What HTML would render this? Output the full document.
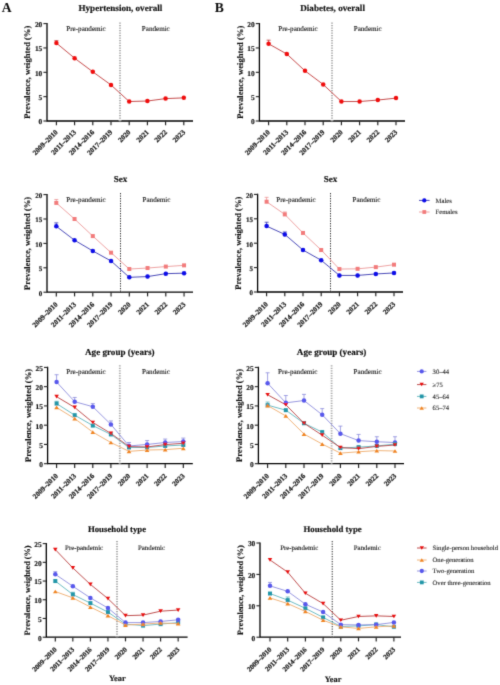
<!DOCTYPE html>
<html><head><meta charset="utf-8"><style>
html,body{margin:0;padding:0;background:#fff;width:500px;height:685px;overflow:hidden;}
svg{display:block;}
#w{width:500px;height:685px;}
text{font-family:"Liberation Serif",serif;text-rendering:geometricPrecision;}
</style></head><body><div id="w">
<svg width="500" height="685" viewBox="0 0 500 685" fill="#111">
<defs><filter id="bl" x="0" y="0" width="500" height="685" filterUnits="userSpaceOnUse"><feConvolveMatrix order="3" kernelMatrix="0.0144 0.0912 0.0144 0.0912 0.5776 0.0912 0.0144 0.0912 0.0144" edgeMode="none"/></filter></defs>
<rect width="500" height="685" fill="#fff"/>
<g filter="url(#bl)">
<text x="120.4" y="11.2" text-anchor="middle" font-weight="bold" font-size="9.10" stroke="#000" stroke-width="0.14">Hypertension, overall</text>
<text x="30.5" y="72.3" transform="rotate(-90 30.5 72.3)" text-anchor="middle" font-weight="bold" font-size="8.55" stroke="#000" stroke-width="0.1">Prevalence, weighted (%)</text>
<path d="M47.00,23.00V121.00H193.00" fill="none" stroke="#000" stroke-width="1.3"/>
<path d="M43.40,121.00H47.00" stroke="#222" stroke-width="1.1"/>
<text x="42.30" y="124.40" text-anchor="end" font-weight="bold" font-size="7.40" stroke="#111" stroke-width="0.15">0</text>
<path d="M43.40,96.65H47.00" stroke="#222" stroke-width="1.1"/>
<text x="42.30" y="100.05" text-anchor="end" font-weight="bold" font-size="7.40" stroke="#111" stroke-width="0.15">5</text>
<path d="M43.40,72.30H47.00" stroke="#222" stroke-width="1.1"/>
<text x="42.30" y="75.70" text-anchor="end" font-weight="bold" font-size="7.40" stroke="#111" stroke-width="0.15">10</text>
<path d="M43.40,47.95H47.00" stroke="#222" stroke-width="1.1"/>
<text x="42.30" y="51.35" text-anchor="end" font-weight="bold" font-size="7.40" stroke="#111" stroke-width="0.15">15</text>
<path d="M43.40,23.60H47.00" stroke="#222" stroke-width="1.1"/>
<text x="42.30" y="27.00" text-anchor="end" font-weight="bold" font-size="7.40" stroke="#111" stroke-width="0.15">20</text>
<path d="M56.40,121.00V125.20" stroke="#222" stroke-width="1.15"/>
<text x="58.30" y="132.60" transform="rotate(-45 58.30 132.60)" text-anchor="end" font-weight="bold" font-size="7.20" stroke="#111" stroke-width="0.18">2009–2010</text>
<path d="M74.60,121.00V125.20" stroke="#222" stroke-width="1.15"/>
<text x="76.50" y="132.60" transform="rotate(-45 76.50 132.60)" text-anchor="end" font-weight="bold" font-size="7.20" stroke="#111" stroke-width="0.18">2011–2013</text>
<path d="M92.80,121.00V125.20" stroke="#222" stroke-width="1.15"/>
<text x="94.70" y="132.60" transform="rotate(-45 94.70 132.60)" text-anchor="end" font-weight="bold" font-size="7.20" stroke="#111" stroke-width="0.18">2014–2016</text>
<path d="M111.00,121.00V125.20" stroke="#222" stroke-width="1.15"/>
<text x="112.90" y="132.60" transform="rotate(-45 112.90 132.60)" text-anchor="end" font-weight="bold" font-size="7.20" stroke="#111" stroke-width="0.18">2017–2019</text>
<path d="M129.20,121.00V125.20" stroke="#222" stroke-width="1.15"/>
<text x="131.10" y="132.60" transform="rotate(-45 131.10 132.60)" text-anchor="end" font-weight="bold" font-size="7.20" stroke="#111" stroke-width="0.18">2020</text>
<path d="M147.40,121.00V125.20" stroke="#222" stroke-width="1.15"/>
<text x="149.30" y="132.60" transform="rotate(-45 149.30 132.60)" text-anchor="end" font-weight="bold" font-size="7.20" stroke="#111" stroke-width="0.18">2021</text>
<path d="M165.60,121.00V125.20" stroke="#222" stroke-width="1.15"/>
<text x="167.50" y="132.60" transform="rotate(-45 167.50 132.60)" text-anchor="end" font-weight="bold" font-size="7.20" stroke="#111" stroke-width="0.18">2022</text>
<path d="M183.80,121.00V125.20" stroke="#222" stroke-width="1.15"/>
<text x="185.70" y="132.60" transform="rotate(-45 185.70 132.60)" text-anchor="end" font-weight="bold" font-size="7.20" stroke="#111" stroke-width="0.18">2023</text>
<path d="M120.00,22.40V121.00" stroke="#aaa" stroke-width="1.8" stroke-dasharray="1.25 1.25"/>
<text x="86.0" y="30.8" text-anchor="middle" font-size="7.10" stroke="#222" stroke-width="0.12">Pre-pandemic</text>
<text x="155.8" y="30.8" text-anchor="middle" font-size="7.10" stroke="#222" stroke-width="0.12">Pandemic</text>
<path d="M56.40,43.08L74.60,58.18L92.80,71.81L111.00,84.96L129.20,101.52L147.40,101.03L165.60,98.60L183.80,97.87" fill="none" stroke="#c03838" stroke-width="0.9"/>
<path d="M56.40,43.08V40.64M54.40,40.64H58.40" stroke="#c03838" stroke-width="0.8" fill="none"/>
<circle cx="56.40" cy="43.08" r="2.25" fill="#f01010"/>
<circle cx="74.60" cy="58.18" r="2.25" fill="#f01010"/>
<circle cx="92.80" cy="71.81" r="2.25" fill="#f01010"/>
<circle cx="111.00" cy="84.96" r="2.25" fill="#f01010"/>
<circle cx="129.20" cy="101.52" r="2.25" fill="#f01010"/>
<circle cx="147.40" cy="101.03" r="2.25" fill="#f01010"/>
<circle cx="165.60" cy="98.60" r="2.25" fill="#f01010"/>
<circle cx="183.80" cy="97.87" r="2.25" fill="#f01010"/>
<text x="332.6" y="11.2" text-anchor="middle" font-weight="bold" font-size="9.10" stroke="#000" stroke-width="0.14">Diabetes, overall</text>
<text x="242.9" y="72.3" transform="rotate(-90 242.9 72.3)" text-anchor="middle" font-weight="bold" font-size="8.55" stroke="#000" stroke-width="0.1">Prevalence, weighted (%)</text>
<path d="M259.40,23.00V121.00H405.00" fill="none" stroke="#000" stroke-width="1.3"/>
<path d="M255.80,121.00H259.40" stroke="#222" stroke-width="1.1"/>
<text x="254.70" y="124.40" text-anchor="end" font-weight="bold" font-size="7.40" stroke="#111" stroke-width="0.15">0</text>
<path d="M255.80,96.65H259.40" stroke="#222" stroke-width="1.1"/>
<text x="254.70" y="100.05" text-anchor="end" font-weight="bold" font-size="7.40" stroke="#111" stroke-width="0.15">5</text>
<path d="M255.80,72.30H259.40" stroke="#222" stroke-width="1.1"/>
<text x="254.70" y="75.70" text-anchor="end" font-weight="bold" font-size="7.40" stroke="#111" stroke-width="0.15">10</text>
<path d="M255.80,47.95H259.40" stroke="#222" stroke-width="1.1"/>
<text x="254.70" y="51.35" text-anchor="end" font-weight="bold" font-size="7.40" stroke="#111" stroke-width="0.15">15</text>
<path d="M255.80,23.60H259.40" stroke="#222" stroke-width="1.1"/>
<text x="254.70" y="27.00" text-anchor="end" font-weight="bold" font-size="7.40" stroke="#111" stroke-width="0.15">20</text>
<path d="M268.60,121.00V125.20" stroke="#222" stroke-width="1.15"/>
<text x="270.50" y="132.60" transform="rotate(-45 270.50 132.60)" text-anchor="end" font-weight="bold" font-size="7.20" stroke="#111" stroke-width="0.18">2009–2010</text>
<path d="M286.80,121.00V125.20" stroke="#222" stroke-width="1.15"/>
<text x="288.70" y="132.60" transform="rotate(-45 288.70 132.60)" text-anchor="end" font-weight="bold" font-size="7.20" stroke="#111" stroke-width="0.18">2011–2013</text>
<path d="M305.00,121.00V125.20" stroke="#222" stroke-width="1.15"/>
<text x="306.90" y="132.60" transform="rotate(-45 306.90 132.60)" text-anchor="end" font-weight="bold" font-size="7.20" stroke="#111" stroke-width="0.18">2014–2016</text>
<path d="M323.20,121.00V125.20" stroke="#222" stroke-width="1.15"/>
<text x="325.10" y="132.60" transform="rotate(-45 325.10 132.60)" text-anchor="end" font-weight="bold" font-size="7.20" stroke="#111" stroke-width="0.18">2017–2019</text>
<path d="M341.40,121.00V125.20" stroke="#222" stroke-width="1.15"/>
<text x="343.30" y="132.60" transform="rotate(-45 343.30 132.60)" text-anchor="end" font-weight="bold" font-size="7.20" stroke="#111" stroke-width="0.18">2020</text>
<path d="M359.60,121.00V125.20" stroke="#222" stroke-width="1.15"/>
<text x="361.50" y="132.60" transform="rotate(-45 361.50 132.60)" text-anchor="end" font-weight="bold" font-size="7.20" stroke="#111" stroke-width="0.18">2021</text>
<path d="M377.80,121.00V125.20" stroke="#222" stroke-width="1.15"/>
<text x="379.70" y="132.60" transform="rotate(-45 379.70 132.60)" text-anchor="end" font-weight="bold" font-size="7.20" stroke="#111" stroke-width="0.18">2022</text>
<path d="M396.00,121.00V125.20" stroke="#222" stroke-width="1.15"/>
<text x="397.90" y="132.60" transform="rotate(-45 397.90 132.60)" text-anchor="end" font-weight="bold" font-size="7.20" stroke="#111" stroke-width="0.18">2023</text>
<path d="M332.00,22.40V121.00" stroke="#aaa" stroke-width="1.8" stroke-dasharray="1.25 1.25"/>
<text x="298.0" y="30.8" text-anchor="middle" font-size="7.10" stroke="#222" stroke-width="0.12">Pre-pandemic</text>
<text x="367.7" y="30.8" text-anchor="middle" font-size="7.10" stroke="#222" stroke-width="0.12">Pandemic</text>
<path d="M268.60,43.81L286.80,54.04L305.00,70.84L323.20,84.47L341.40,101.52L359.60,101.52L377.80,100.06L396.00,98.11" fill="none" stroke="#c03838" stroke-width="0.9"/>
<path d="M268.60,43.81V40.16M266.60,40.16H270.60" stroke="#c03838" stroke-width="0.8" fill="none"/>
<circle cx="268.60" cy="43.81" r="2.25" fill="#f01010"/>
<circle cx="286.80" cy="54.04" r="2.25" fill="#f01010"/>
<circle cx="305.00" cy="70.84" r="2.25" fill="#f01010"/>
<circle cx="323.20" cy="84.47" r="2.25" fill="#f01010"/>
<circle cx="341.40" cy="101.52" r="2.25" fill="#f01010"/>
<circle cx="359.60" cy="101.52" r="2.25" fill="#f01010"/>
<circle cx="377.80" cy="100.06" r="2.25" fill="#f01010"/>
<circle cx="396.00" cy="98.11" r="2.25" fill="#f01010"/>
<text x="120.5" y="182.2" text-anchor="middle" font-weight="bold" font-size="9.10" stroke="#000" stroke-width="0.14">Sex</text>
<text x="30.5" y="243.4" transform="rotate(-90 30.5 243.4)" text-anchor="middle" font-weight="bold" font-size="8.55" stroke="#000" stroke-width="0.1">Prevalence, weighted (%)</text>
<path d="M47.00,194.00V292.20H193.00" fill="none" stroke="#000" stroke-width="1.3"/>
<path d="M43.40,292.20H47.00" stroke="#222" stroke-width="1.1"/>
<text x="42.30" y="295.60" text-anchor="end" font-weight="bold" font-size="7.00" stroke="#111" stroke-width="0.15">0</text>
<path d="M43.40,267.80H47.00" stroke="#222" stroke-width="1.1"/>
<text x="42.30" y="271.20" text-anchor="end" font-weight="bold" font-size="7.00" stroke="#111" stroke-width="0.15">5</text>
<path d="M43.40,243.40H47.00" stroke="#222" stroke-width="1.1"/>
<text x="42.30" y="246.80" text-anchor="end" font-weight="bold" font-size="7.00" stroke="#111" stroke-width="0.15">10</text>
<path d="M43.40,219.00H47.00" stroke="#222" stroke-width="1.1"/>
<text x="42.30" y="222.40" text-anchor="end" font-weight="bold" font-size="7.00" stroke="#111" stroke-width="0.15">15</text>
<path d="M43.40,194.60H47.00" stroke="#222" stroke-width="1.1"/>
<text x="42.30" y="198.00" text-anchor="end" font-weight="bold" font-size="7.00" stroke="#111" stroke-width="0.15">20</text>
<path d="M56.30,292.20V296.40" stroke="#222" stroke-width="1.15"/>
<text x="58.20" y="304.90" transform="rotate(-45 58.20 304.90)" text-anchor="end" font-weight="bold" font-size="7.20" stroke="#111" stroke-width="0.18">2009–2010</text>
<path d="M74.55,292.20V296.40" stroke="#222" stroke-width="1.15"/>
<text x="76.45" y="304.90" transform="rotate(-45 76.45 304.90)" text-anchor="end" font-weight="bold" font-size="7.20" stroke="#111" stroke-width="0.18">2011–2013</text>
<path d="M92.80,292.20V296.40" stroke="#222" stroke-width="1.15"/>
<text x="94.70" y="304.90" transform="rotate(-45 94.70 304.90)" text-anchor="end" font-weight="bold" font-size="7.20" stroke="#111" stroke-width="0.18">2014–2016</text>
<path d="M111.05,292.20V296.40" stroke="#222" stroke-width="1.15"/>
<text x="112.95" y="304.90" transform="rotate(-45 112.95 304.90)" text-anchor="end" font-weight="bold" font-size="7.20" stroke="#111" stroke-width="0.18">2017–2019</text>
<path d="M129.30,292.20V296.40" stroke="#222" stroke-width="1.15"/>
<text x="131.20" y="304.90" transform="rotate(-45 131.20 304.90)" text-anchor="end" font-weight="bold" font-size="7.20" stroke="#111" stroke-width="0.18">2020</text>
<path d="M147.55,292.20V296.40" stroke="#222" stroke-width="1.15"/>
<text x="149.45" y="304.90" transform="rotate(-45 149.45 304.90)" text-anchor="end" font-weight="bold" font-size="7.20" stroke="#111" stroke-width="0.18">2021</text>
<path d="M165.80,292.20V296.40" stroke="#222" stroke-width="1.15"/>
<text x="167.70" y="304.90" transform="rotate(-45 167.70 304.90)" text-anchor="end" font-weight="bold" font-size="7.20" stroke="#111" stroke-width="0.18">2022</text>
<path d="M184.05,292.20V296.40" stroke="#222" stroke-width="1.15"/>
<text x="185.95" y="304.90" transform="rotate(-45 185.95 304.90)" text-anchor="end" font-weight="bold" font-size="7.20" stroke="#111" stroke-width="0.18">2023</text>
<path d="M120.50,193.00V292.20" stroke="#333" stroke-width="1.0" stroke-dasharray="1.25 1.25"/>
<text x="86.0" y="201.8" text-anchor="middle" font-size="7.10" stroke="#222" stroke-width="0.12">Pre-pandemic</text>
<text x="156.5" y="201.8" text-anchor="middle" font-size="7.10" stroke="#222" stroke-width="0.12">Pandemic</text>
<path d="M56.30,202.90L74.55,219.00L92.80,236.08L111.05,252.67L129.30,269.02L147.55,268.04L165.80,266.58L184.05,265.36" fill="none" stroke="#ec9898" stroke-width="0.9"/>
<path d="M56.30,202.90V199.48M54.30,199.48H58.30" stroke="#ec9898" stroke-width="0.8" fill="none"/>
<rect x="54.30" y="200.90" width="4.00" height="4.00" fill="#f27c7c"/>
<rect x="72.55" y="217.00" width="4.00" height="4.00" fill="#f27c7c"/>
<rect x="90.80" y="234.08" width="4.00" height="4.00" fill="#f27c7c"/>
<rect x="109.05" y="250.67" width="4.00" height="4.00" fill="#f27c7c"/>
<rect x="127.30" y="267.02" width="4.00" height="4.00" fill="#f27c7c"/>
<rect x="145.55" y="266.04" width="4.00" height="4.00" fill="#f27c7c"/>
<rect x="163.80" y="264.58" width="4.00" height="4.00" fill="#f27c7c"/>
<rect x="182.05" y="263.36" width="4.00" height="4.00" fill="#f27c7c"/>
<path d="M56.30,226.32L74.55,240.23L92.80,250.96L111.05,260.97L129.30,277.32L147.55,276.58L165.80,273.66L184.05,273.17" fill="none" stroke="#3535b0" stroke-width="0.9"/>
<path d="M56.30,226.32V222.90M54.30,222.90H58.30" stroke="#3535b0" stroke-width="0.8" fill="none"/>
<circle cx="56.30" cy="226.32" r="2.25" fill="#0a0ae8"/>
<circle cx="74.55" cy="240.23" r="2.25" fill="#0a0ae8"/>
<circle cx="92.80" cy="250.96" r="2.25" fill="#0a0ae8"/>
<circle cx="111.05" cy="260.97" r="2.25" fill="#0a0ae8"/>
<circle cx="129.30" cy="277.32" r="2.25" fill="#0a0ae8"/>
<circle cx="147.55" cy="276.58" r="2.25" fill="#0a0ae8"/>
<circle cx="165.80" cy="273.66" r="2.25" fill="#0a0ae8"/>
<circle cx="184.05" cy="273.17" r="2.25" fill="#0a0ae8"/>
<text x="330.6" y="182.2" text-anchor="middle" font-weight="bold" font-size="9.10" stroke="#000" stroke-width="0.14">Sex</text>
<text x="241.1" y="243.2" transform="rotate(-90 241.1 243.2)" text-anchor="middle" font-weight="bold" font-size="8.55" stroke="#000" stroke-width="0.1">Prevalence, weighted (%)</text>
<path d="M257.60,193.80V292.00H403.00" fill="none" stroke="#000" stroke-width="1.3"/>
<path d="M254.00,292.00H257.60" stroke="#222" stroke-width="1.1"/>
<text x="252.90" y="295.40" text-anchor="end" font-weight="bold" font-size="7.00" stroke="#111" stroke-width="0.15">0</text>
<path d="M254.00,267.60H257.60" stroke="#222" stroke-width="1.1"/>
<text x="252.90" y="271.00" text-anchor="end" font-weight="bold" font-size="7.00" stroke="#111" stroke-width="0.15">5</text>
<path d="M254.00,243.20H257.60" stroke="#222" stroke-width="1.1"/>
<text x="252.90" y="246.60" text-anchor="end" font-weight="bold" font-size="7.00" stroke="#111" stroke-width="0.15">10</text>
<path d="M254.00,218.80H257.60" stroke="#222" stroke-width="1.1"/>
<text x="252.90" y="222.20" text-anchor="end" font-weight="bold" font-size="7.00" stroke="#111" stroke-width="0.15">15</text>
<path d="M254.00,194.40H257.60" stroke="#222" stroke-width="1.1"/>
<text x="252.90" y="197.80" text-anchor="end" font-weight="bold" font-size="7.00" stroke="#111" stroke-width="0.15">20</text>
<path d="M266.60,292.00V296.20" stroke="#222" stroke-width="1.15"/>
<text x="268.50" y="304.70" transform="rotate(-45 268.50 304.70)" text-anchor="end" font-weight="bold" font-size="7.20" stroke="#111" stroke-width="0.18">2009–2010</text>
<path d="M284.80,292.00V296.20" stroke="#222" stroke-width="1.15"/>
<text x="286.70" y="304.70" transform="rotate(-45 286.70 304.70)" text-anchor="end" font-weight="bold" font-size="7.20" stroke="#111" stroke-width="0.18">2011–2013</text>
<path d="M303.00,292.00V296.20" stroke="#222" stroke-width="1.15"/>
<text x="304.90" y="304.70" transform="rotate(-45 304.90 304.70)" text-anchor="end" font-weight="bold" font-size="7.20" stroke="#111" stroke-width="0.18">2014–2016</text>
<path d="M321.20,292.00V296.20" stroke="#222" stroke-width="1.15"/>
<text x="323.10" y="304.70" transform="rotate(-45 323.10 304.70)" text-anchor="end" font-weight="bold" font-size="7.20" stroke="#111" stroke-width="0.18">2017–2019</text>
<path d="M339.40,292.00V296.20" stroke="#222" stroke-width="1.15"/>
<text x="341.30" y="304.70" transform="rotate(-45 341.30 304.70)" text-anchor="end" font-weight="bold" font-size="7.20" stroke="#111" stroke-width="0.18">2020</text>
<path d="M357.60,292.00V296.20" stroke="#222" stroke-width="1.15"/>
<text x="359.50" y="304.70" transform="rotate(-45 359.50 304.70)" text-anchor="end" font-weight="bold" font-size="7.20" stroke="#111" stroke-width="0.18">2021</text>
<path d="M375.80,292.00V296.20" stroke="#222" stroke-width="1.15"/>
<text x="377.70" y="304.70" transform="rotate(-45 377.70 304.70)" text-anchor="end" font-weight="bold" font-size="7.20" stroke="#111" stroke-width="0.18">2022</text>
<path d="M394.00,292.00V296.20" stroke="#222" stroke-width="1.15"/>
<text x="395.90" y="304.70" transform="rotate(-45 395.90 304.70)" text-anchor="end" font-weight="bold" font-size="7.20" stroke="#111" stroke-width="0.18">2023</text>
<path d="M330.50,193.00V292.00" stroke="#333" stroke-width="1.0" stroke-dasharray="1.25 1.25"/>
<text x="296.0" y="201.8" text-anchor="middle" font-size="7.10" stroke="#222" stroke-width="0.12">Pre-pandemic</text>
<text x="366.5" y="201.8" text-anchor="middle" font-size="7.10" stroke="#222" stroke-width="0.12">Pandemic</text>
<path d="M266.60,201.72L284.80,214.41L303.00,232.95L321.20,250.03L339.40,269.06L357.60,268.82L375.80,267.11L394.00,264.67" fill="none" stroke="#ec9898" stroke-width="0.9"/>
<path d="M266.60,201.72V197.33M264.60,197.33H268.60" stroke="#ec9898" stroke-width="0.8" fill="none"/>
<path d="M284.80,214.41V211.97M282.80,211.97H286.80" stroke="#ec9898" stroke-width="0.8" fill="none"/>
<rect x="264.60" y="199.72" width="4.00" height="4.00" fill="#f27c7c"/>
<rect x="282.80" y="212.41" width="4.00" height="4.00" fill="#f27c7c"/>
<rect x="301.00" y="230.95" width="4.00" height="4.00" fill="#f27c7c"/>
<rect x="319.20" y="248.03" width="4.00" height="4.00" fill="#f27c7c"/>
<rect x="337.40" y="267.06" width="4.00" height="4.00" fill="#f27c7c"/>
<rect x="355.60" y="266.82" width="4.00" height="4.00" fill="#f27c7c"/>
<rect x="373.80" y="265.11" width="4.00" height="4.00" fill="#f27c7c"/>
<rect x="392.00" y="262.67" width="4.00" height="4.00" fill="#f27c7c"/>
<path d="M266.60,226.12L284.80,234.42L303.00,250.03L321.20,260.28L339.40,275.41L357.60,275.41L375.80,273.94L394.00,272.97" fill="none" stroke="#3535b0" stroke-width="0.9"/>
<path d="M266.60,226.12V222.22M264.60,222.22H268.60" stroke="#3535b0" stroke-width="0.8" fill="none"/>
<path d="M284.80,234.42V231.98M282.80,231.98H286.80" stroke="#3535b0" stroke-width="0.8" fill="none"/>
<circle cx="266.60" cy="226.12" r="2.25" fill="#0a0ae8"/>
<circle cx="284.80" cy="234.42" r="2.25" fill="#0a0ae8"/>
<circle cx="303.00" cy="250.03" r="2.25" fill="#0a0ae8"/>
<circle cx="321.20" cy="260.28" r="2.25" fill="#0a0ae8"/>
<circle cx="339.40" cy="275.41" r="2.25" fill="#0a0ae8"/>
<circle cx="357.60" cy="275.41" r="2.25" fill="#0a0ae8"/>
<circle cx="375.80" cy="273.94" r="2.25" fill="#0a0ae8"/>
<circle cx="394.00" cy="272.97" r="2.25" fill="#0a0ae8"/>
<text x="119.8" y="355.0" text-anchor="middle" font-weight="bold" font-size="9.10" stroke="#000" stroke-width="0.14">Age group (years)</text>
<text x="31.1" y="415.5" transform="rotate(-90 31.1 415.5)" text-anchor="middle" font-weight="bold" font-size="8.55" stroke="#000" stroke-width="0.1">Prevalence, weighted (%)</text>
<path d="M47.60,366.80V463.70H192.80" fill="none" stroke="#000" stroke-width="1.3"/>
<path d="M44.00,463.70H47.60" stroke="#222" stroke-width="1.1"/>
<text x="42.90" y="467.10" text-anchor="end" font-weight="bold" font-size="7.40" stroke="#111" stroke-width="0.15">0</text>
<path d="M44.00,444.44H47.60" stroke="#222" stroke-width="1.1"/>
<text x="42.90" y="447.84" text-anchor="end" font-weight="bold" font-size="7.40" stroke="#111" stroke-width="0.15">5</text>
<path d="M44.00,425.18H47.60" stroke="#222" stroke-width="1.1"/>
<text x="42.90" y="428.58" text-anchor="end" font-weight="bold" font-size="7.40" stroke="#111" stroke-width="0.15">10</text>
<path d="M44.00,405.92H47.60" stroke="#222" stroke-width="1.1"/>
<text x="42.90" y="409.32" text-anchor="end" font-weight="bold" font-size="7.40" stroke="#111" stroke-width="0.15">15</text>
<path d="M44.00,386.66H47.60" stroke="#222" stroke-width="1.1"/>
<text x="42.90" y="390.06" text-anchor="end" font-weight="bold" font-size="7.40" stroke="#111" stroke-width="0.15">20</text>
<path d="M44.00,367.40H47.60" stroke="#222" stroke-width="1.1"/>
<text x="42.90" y="370.80" text-anchor="end" font-weight="bold" font-size="7.40" stroke="#111" stroke-width="0.15">25</text>
<path d="M56.60,463.70V467.90" stroke="#222" stroke-width="1.15"/>
<text x="58.50" y="476.40" transform="rotate(-45 58.50 476.40)" text-anchor="end" font-weight="bold" font-size="7.20" stroke="#111" stroke-width="0.18">2009–2010</text>
<path d="M74.70,463.70V467.90" stroke="#222" stroke-width="1.15"/>
<text x="76.60" y="476.40" transform="rotate(-45 76.60 476.40)" text-anchor="end" font-weight="bold" font-size="7.20" stroke="#111" stroke-width="0.18">2011–2013</text>
<path d="M92.80,463.70V467.90" stroke="#222" stroke-width="1.15"/>
<text x="94.70" y="476.40" transform="rotate(-45 94.70 476.40)" text-anchor="end" font-weight="bold" font-size="7.20" stroke="#111" stroke-width="0.18">2014–2016</text>
<path d="M110.90,463.70V467.90" stroke="#222" stroke-width="1.15"/>
<text x="112.80" y="476.40" transform="rotate(-45 112.80 476.40)" text-anchor="end" font-weight="bold" font-size="7.20" stroke="#111" stroke-width="0.18">2017–2019</text>
<path d="M129.00,463.70V467.90" stroke="#222" stroke-width="1.15"/>
<text x="130.90" y="476.40" transform="rotate(-45 130.90 476.40)" text-anchor="end" font-weight="bold" font-size="7.20" stroke="#111" stroke-width="0.18">2020</text>
<path d="M147.10,463.70V467.90" stroke="#222" stroke-width="1.15"/>
<text x="149.00" y="476.40" transform="rotate(-45 149.00 476.40)" text-anchor="end" font-weight="bold" font-size="7.20" stroke="#111" stroke-width="0.18">2021</text>
<path d="M165.20,463.70V467.90" stroke="#222" stroke-width="1.15"/>
<text x="167.10" y="476.40" transform="rotate(-45 167.10 476.40)" text-anchor="end" font-weight="bold" font-size="7.20" stroke="#111" stroke-width="0.18">2022</text>
<path d="M183.30,463.70V467.90" stroke="#222" stroke-width="1.15"/>
<text x="185.20" y="476.40" transform="rotate(-45 185.20 476.40)" text-anchor="end" font-weight="bold" font-size="7.20" stroke="#111" stroke-width="0.18">2023</text>
<path d="M119.80,365.20V463.70" stroke="#aaa" stroke-width="1.8" stroke-dasharray="1.25 1.25"/>
<text x="86.0" y="374.0" text-anchor="middle" font-size="7.10" stroke="#222" stroke-width="0.12">Pre-pandemic</text>
<text x="156.0" y="374.0" text-anchor="middle" font-size="7.10" stroke="#222" stroke-width="0.12">Pandemic</text>
<path d="M56.60,382.04L74.70,401.68L92.80,406.69L110.90,424.41L129.00,445.98L147.10,444.44L165.20,442.51L183.30,441.55" fill="none" stroke="#8c8cdc" stroke-width="0.9"/>
<path d="M56.60,382.04V374.72M54.60,374.72H58.60" stroke="#8c8cdc" stroke-width="0.8" fill="none"/>
<path d="M74.70,401.68V397.45M72.70,397.45H76.70" stroke="#8c8cdc" stroke-width="0.8" fill="none"/>
<path d="M92.80,406.69V403.61M90.80,403.61H94.80" stroke="#8c8cdc" stroke-width="0.8" fill="none"/>
<path d="M110.90,424.41V420.94M108.90,420.94H112.90" stroke="#8c8cdc" stroke-width="0.8" fill="none"/>
<path d="M129.00,445.98V442.51M127.00,442.51H131.00" stroke="#8c8cdc" stroke-width="0.8" fill="none"/>
<path d="M147.10,444.44V440.59M145.10,440.59H149.10" stroke="#8c8cdc" stroke-width="0.8" fill="none"/>
<path d="M165.20,442.51V439.05M163.20,439.05H167.20" stroke="#8c8cdc" stroke-width="0.8" fill="none"/>
<path d="M183.30,441.55V438.08M181.30,438.08H185.30" stroke="#8c8cdc" stroke-width="0.8" fill="none"/>
<circle cx="56.60" cy="382.04" r="2.25" fill="#5858ec"/>
<circle cx="74.70" cy="401.68" r="2.25" fill="#5858ec"/>
<circle cx="92.80" cy="406.69" r="2.25" fill="#5858ec"/>
<circle cx="110.90" cy="424.41" r="2.25" fill="#5858ec"/>
<circle cx="129.00" cy="445.98" r="2.25" fill="#5858ec"/>
<circle cx="147.10" cy="444.44" r="2.25" fill="#5858ec"/>
<circle cx="165.20" cy="442.51" r="2.25" fill="#5858ec"/>
<circle cx="183.30" cy="441.55" r="2.25" fill="#5858ec"/>
<path d="M56.60,403.61L74.70,415.16L92.80,425.57L110.90,434.42L129.00,447.52L147.10,447.52L165.20,445.98L183.30,445.02" fill="none" stroke="#5cb4bc" stroke-width="0.9"/>
<path d="M56.60,403.61V401.30M54.60,401.30H58.60" stroke="#5cb4bc" stroke-width="0.8" fill="none"/>
<rect x="54.60" y="401.61" width="4.00" height="4.00" fill="#2196a8"/>
<rect x="72.70" y="413.16" width="4.00" height="4.00" fill="#2196a8"/>
<rect x="90.80" y="423.57" width="4.00" height="4.00" fill="#2196a8"/>
<rect x="108.90" y="432.42" width="4.00" height="4.00" fill="#2196a8"/>
<rect x="127.00" y="445.52" width="4.00" height="4.00" fill="#2196a8"/>
<rect x="145.10" y="445.52" width="4.00" height="4.00" fill="#2196a8"/>
<rect x="163.20" y="443.98" width="4.00" height="4.00" fill="#2196a8"/>
<rect x="181.30" y="443.02" width="4.00" height="4.00" fill="#2196a8"/>
<path d="M56.60,407.46L74.70,418.63L92.80,432.11L110.90,442.51L129.00,451.37L147.10,450.03L165.20,449.64L183.30,448.29" fill="none" stroke="#eeac6c" stroke-width="0.9"/>
<path d="M54.25,409.31L58.95,409.31L56.60,405.61Z" fill="#f08420"/>
<path d="M72.35,420.48L77.05,420.48L74.70,416.78Z" fill="#f08420"/>
<path d="M90.45,433.96L95.15,433.96L92.80,430.26Z" fill="#f08420"/>
<path d="M108.55,444.36L113.25,444.36L110.90,440.66Z" fill="#f08420"/>
<path d="M126.65,453.22L131.35,453.22L129.00,449.52Z" fill="#f08420"/>
<path d="M144.75,451.88L149.45,451.88L147.10,448.18Z" fill="#f08420"/>
<path d="M162.85,451.49L167.55,451.49L165.20,447.79Z" fill="#f08420"/>
<path d="M180.95,450.14L185.65,450.14L183.30,446.44Z" fill="#f08420"/>
<path d="M56.60,396.68L74.70,407.46L92.80,422.48L110.90,433.46L129.00,446.56L147.10,446.94L165.20,444.63L183.30,443.28" fill="none" stroke="#b83c3c" stroke-width="0.9"/>
<path d="M54.35,394.83L58.85,394.83L56.60,398.53Z" fill="#e80c0c"/>
<path d="M72.45,405.61L76.95,405.61L74.70,409.31Z" fill="#e80c0c"/>
<path d="M90.55,420.63L95.05,420.63L92.80,424.33Z" fill="#e80c0c"/>
<path d="M108.65,431.61L113.15,431.61L110.90,435.31Z" fill="#e80c0c"/>
<path d="M126.75,444.71L131.25,444.71L129.00,448.41Z" fill="#e80c0c"/>
<path d="M144.85,445.09L149.35,445.09L147.10,448.79Z" fill="#e80c0c"/>
<path d="M162.95,442.78L167.45,442.78L165.20,446.48Z" fill="#e80c0c"/>
<path d="M181.05,441.43L185.55,441.43L183.30,445.13Z" fill="#e80c0c"/>
<text x="331.6" y="355.0" text-anchor="middle" font-weight="bold" font-size="9.10" stroke="#000" stroke-width="0.14">Age group (years)</text>
<text x="241.9" y="415.5" transform="rotate(-90 241.9 415.5)" text-anchor="middle" font-weight="bold" font-size="8.55" stroke="#000" stroke-width="0.1">Prevalence, weighted (%)</text>
<path d="M258.40,366.80V463.70H404.00" fill="none" stroke="#000" stroke-width="1.3"/>
<path d="M254.80,463.70H258.40" stroke="#222" stroke-width="1.1"/>
<text x="253.70" y="467.10" text-anchor="end" font-weight="bold" font-size="7.40" stroke="#111" stroke-width="0.15">0</text>
<path d="M254.80,444.44H258.40" stroke="#222" stroke-width="1.1"/>
<text x="253.70" y="447.84" text-anchor="end" font-weight="bold" font-size="7.40" stroke="#111" stroke-width="0.15">5</text>
<path d="M254.80,425.18H258.40" stroke="#222" stroke-width="1.1"/>
<text x="253.70" y="428.58" text-anchor="end" font-weight="bold" font-size="7.40" stroke="#111" stroke-width="0.15">10</text>
<path d="M254.80,405.92H258.40" stroke="#222" stroke-width="1.1"/>
<text x="253.70" y="409.32" text-anchor="end" font-weight="bold" font-size="7.40" stroke="#111" stroke-width="0.15">15</text>
<path d="M254.80,386.66H258.40" stroke="#222" stroke-width="1.1"/>
<text x="253.70" y="390.06" text-anchor="end" font-weight="bold" font-size="7.40" stroke="#111" stroke-width="0.15">20</text>
<path d="M254.80,367.40H258.40" stroke="#222" stroke-width="1.1"/>
<text x="253.70" y="370.80" text-anchor="end" font-weight="bold" font-size="7.40" stroke="#111" stroke-width="0.15">25</text>
<path d="M267.60,463.70V467.90" stroke="#222" stroke-width="1.15"/>
<text x="269.50" y="476.40" transform="rotate(-45 269.50 476.40)" text-anchor="end" font-weight="bold" font-size="7.20" stroke="#111" stroke-width="0.18">2009–2010</text>
<path d="M285.80,463.70V467.90" stroke="#222" stroke-width="1.15"/>
<text x="287.70" y="476.40" transform="rotate(-45 287.70 476.40)" text-anchor="end" font-weight="bold" font-size="7.20" stroke="#111" stroke-width="0.18">2011–2013</text>
<path d="M304.00,463.70V467.90" stroke="#222" stroke-width="1.15"/>
<text x="305.90" y="476.40" transform="rotate(-45 305.90 476.40)" text-anchor="end" font-weight="bold" font-size="7.20" stroke="#111" stroke-width="0.18">2014–2016</text>
<path d="M322.20,463.70V467.90" stroke="#222" stroke-width="1.15"/>
<text x="324.10" y="476.40" transform="rotate(-45 324.10 476.40)" text-anchor="end" font-weight="bold" font-size="7.20" stroke="#111" stroke-width="0.18">2017–2019</text>
<path d="M340.40,463.70V467.90" stroke="#222" stroke-width="1.15"/>
<text x="342.30" y="476.40" transform="rotate(-45 342.30 476.40)" text-anchor="end" font-weight="bold" font-size="7.20" stroke="#111" stroke-width="0.18">2020</text>
<path d="M358.60,463.70V467.90" stroke="#222" stroke-width="1.15"/>
<text x="360.50" y="476.40" transform="rotate(-45 360.50 476.40)" text-anchor="end" font-weight="bold" font-size="7.20" stroke="#111" stroke-width="0.18">2021</text>
<path d="M376.80,463.70V467.90" stroke="#222" stroke-width="1.15"/>
<text x="378.70" y="476.40" transform="rotate(-45 378.70 476.40)" text-anchor="end" font-weight="bold" font-size="7.20" stroke="#111" stroke-width="0.18">2022</text>
<path d="M395.00,463.70V467.90" stroke="#222" stroke-width="1.15"/>
<text x="396.90" y="476.40" transform="rotate(-45 396.90 476.40)" text-anchor="end" font-weight="bold" font-size="7.20" stroke="#111" stroke-width="0.18">2023</text>
<path d="M331.60,365.20V463.70" stroke="#aaa" stroke-width="1.8" stroke-dasharray="1.25 1.25"/>
<text x="297.8" y="374.0" text-anchor="middle" font-size="7.10" stroke="#222" stroke-width="0.12">Pre-pandemic</text>
<text x="367.6" y="374.0" text-anchor="middle" font-size="7.10" stroke="#222" stroke-width="0.12">Pandemic</text>
<path d="M267.60,383.19L285.80,402.84L304.00,400.53L322.20,414.78L340.40,433.65L358.60,440.59L376.80,441.74L395.00,442.51" fill="none" stroke="#8c8cdc" stroke-width="0.9"/>
<path d="M267.60,383.19V372.79M265.60,372.79H269.60" stroke="#8c8cdc" stroke-width="0.8" fill="none"/>
<path d="M285.80,402.84V395.52M283.80,395.52H287.80" stroke="#8c8cdc" stroke-width="0.8" fill="none"/>
<path d="M304.00,400.53V394.36M302.00,394.36H306.00" stroke="#8c8cdc" stroke-width="0.8" fill="none"/>
<path d="M322.20,414.78V408.62M320.20,408.62H324.20" stroke="#8c8cdc" stroke-width="0.8" fill="none"/>
<path d="M340.40,433.65V426.14M338.40,426.14H342.40" stroke="#8c8cdc" stroke-width="0.8" fill="none"/>
<path d="M358.60,440.59V434.42M356.60,434.42H360.60" stroke="#8c8cdc" stroke-width="0.8" fill="none"/>
<path d="M376.80,441.74V436.74M374.80,436.74H378.80" stroke="#8c8cdc" stroke-width="0.8" fill="none"/>
<path d="M395.00,442.51V436.74M393.00,436.74H397.00" stroke="#8c8cdc" stroke-width="0.8" fill="none"/>
<circle cx="267.60" cy="383.19" r="2.25" fill="#5858ec"/>
<circle cx="285.80" cy="402.84" r="2.25" fill="#5858ec"/>
<circle cx="304.00" cy="400.53" r="2.25" fill="#5858ec"/>
<circle cx="322.20" cy="414.78" r="2.25" fill="#5858ec"/>
<circle cx="340.40" cy="433.65" r="2.25" fill="#5858ec"/>
<circle cx="358.60" cy="440.59" r="2.25" fill="#5858ec"/>
<circle cx="376.80" cy="441.74" r="2.25" fill="#5858ec"/>
<circle cx="395.00" cy="442.51" r="2.25" fill="#5858ec"/>
<path d="M267.60,405.15L285.80,410.16L304.00,423.25L322.20,432.11L340.40,448.10L358.60,447.14L376.80,445.98L395.00,444.05" fill="none" stroke="#5cb4bc" stroke-width="0.9"/>
<path d="M267.60,405.15V402.07M265.60,402.07H269.60" stroke="#5cb4bc" stroke-width="0.8" fill="none"/>
<rect x="265.60" y="403.15" width="4.00" height="4.00" fill="#2196a8"/>
<rect x="283.80" y="408.16" width="4.00" height="4.00" fill="#2196a8"/>
<rect x="302.00" y="421.25" width="4.00" height="4.00" fill="#2196a8"/>
<rect x="320.20" y="430.11" width="4.00" height="4.00" fill="#2196a8"/>
<rect x="338.40" y="446.10" width="4.00" height="4.00" fill="#2196a8"/>
<rect x="356.60" y="445.14" width="4.00" height="4.00" fill="#2196a8"/>
<rect x="374.80" y="443.98" width="4.00" height="4.00" fill="#2196a8"/>
<rect x="393.00" y="442.05" width="4.00" height="4.00" fill="#2196a8"/>
<path d="M267.60,405.53L285.80,415.94L304.00,434.04L322.20,444.05L340.40,453.11L358.60,451.76L376.80,450.60L395.00,450.99" fill="none" stroke="#eeac6c" stroke-width="0.9"/>
<path d="M265.25,407.38L269.95,407.38L267.60,403.68Z" fill="#f08420"/>
<path d="M283.45,417.79L288.15,417.79L285.80,414.09Z" fill="#f08420"/>
<path d="M301.65,435.89L306.35,435.89L304.00,432.19Z" fill="#f08420"/>
<path d="M319.85,445.90L324.55,445.90L322.20,442.20Z" fill="#f08420"/>
<path d="M338.05,454.96L342.75,454.96L340.40,451.26Z" fill="#f08420"/>
<path d="M356.25,453.61L360.95,453.61L358.60,449.91Z" fill="#f08420"/>
<path d="M374.45,452.45L379.15,452.45L376.80,448.75Z" fill="#f08420"/>
<path d="M392.65,452.84L397.35,452.84L395.00,449.14Z" fill="#f08420"/>
<path d="M267.60,394.75L285.80,404.76L304.00,423.25L322.20,435.20L340.40,447.52L358.60,448.68L376.80,446.37L395.00,445.02" fill="none" stroke="#b83c3c" stroke-width="0.9"/>
<path d="M265.35,392.90L269.85,392.90L267.60,396.60Z" fill="#e80c0c"/>
<path d="M283.55,402.91L288.05,402.91L285.80,406.61Z" fill="#e80c0c"/>
<path d="M301.75,421.40L306.25,421.40L304.00,425.10Z" fill="#e80c0c"/>
<path d="M319.95,433.35L324.45,433.35L322.20,437.05Z" fill="#e80c0c"/>
<path d="M338.15,445.67L342.65,445.67L340.40,449.37Z" fill="#e80c0c"/>
<path d="M356.35,446.83L360.85,446.83L358.60,450.53Z" fill="#e80c0c"/>
<path d="M374.55,444.52L379.05,444.52L376.80,448.22Z" fill="#e80c0c"/>
<path d="M392.75,443.17L397.25,443.17L395.00,446.87Z" fill="#e80c0c"/>
<text x="117.0" y="531.6" text-anchor="middle" font-weight="bold" font-size="8.78" stroke="#000" stroke-width="0.14">Household type</text>
<text x="29.8" y="590.4" transform="rotate(-90 29.8 590.4)" text-anchor="middle" font-weight="bold" font-size="8.25" stroke="#000" stroke-width="0.1">Prevalence, weighted (%)</text>
<path d="M46.30,543.00V637.20H187.60" fill="none" stroke="#000" stroke-width="1.3"/>
<path d="M42.70,637.20H46.30" stroke="#222" stroke-width="1.1"/>
<text x="41.60" y="640.60" text-anchor="end" font-weight="bold" font-size="7.40" stroke="#111" stroke-width="0.15">0</text>
<path d="M42.70,618.48H46.30" stroke="#222" stroke-width="1.1"/>
<text x="41.60" y="621.88" text-anchor="end" font-weight="bold" font-size="7.40" stroke="#111" stroke-width="0.15">5</text>
<path d="M42.70,599.76H46.30" stroke="#222" stroke-width="1.1"/>
<text x="41.60" y="603.16" text-anchor="end" font-weight="bold" font-size="7.40" stroke="#111" stroke-width="0.15">10</text>
<path d="M42.70,581.04H46.30" stroke="#222" stroke-width="1.1"/>
<text x="41.60" y="584.44" text-anchor="end" font-weight="bold" font-size="7.40" stroke="#111" stroke-width="0.15">15</text>
<path d="M42.70,562.32H46.30" stroke="#222" stroke-width="1.1"/>
<text x="41.60" y="565.72" text-anchor="end" font-weight="bold" font-size="7.40" stroke="#111" stroke-width="0.15">20</text>
<path d="M42.70,543.60H46.30" stroke="#222" stroke-width="1.1"/>
<text x="41.60" y="547.00" text-anchor="end" font-weight="bold" font-size="7.40" stroke="#111" stroke-width="0.15">25</text>
<path d="M55.30,637.20V641.40" stroke="#222" stroke-width="1.15"/>
<text x="57.20" y="650.00" transform="rotate(-45 57.20 650.00)" text-anchor="end" font-weight="bold" font-size="6.95" stroke="#111" stroke-width="0.18">2009–2010</text>
<path d="M72.85,637.20V641.40" stroke="#222" stroke-width="1.15"/>
<text x="74.75" y="650.00" transform="rotate(-45 74.75 650.00)" text-anchor="end" font-weight="bold" font-size="6.95" stroke="#111" stroke-width="0.18">2011–2013</text>
<path d="M90.40,637.20V641.40" stroke="#222" stroke-width="1.15"/>
<text x="92.30" y="650.00" transform="rotate(-45 92.30 650.00)" text-anchor="end" font-weight="bold" font-size="6.95" stroke="#111" stroke-width="0.18">2014–2016</text>
<path d="M107.95,637.20V641.40" stroke="#222" stroke-width="1.15"/>
<text x="109.85" y="650.00" transform="rotate(-45 109.85 650.00)" text-anchor="end" font-weight="bold" font-size="6.95" stroke="#111" stroke-width="0.18">2017–2019</text>
<path d="M125.50,637.20V641.40" stroke="#222" stroke-width="1.15"/>
<text x="127.40" y="650.00" transform="rotate(-45 127.40 650.00)" text-anchor="end" font-weight="bold" font-size="6.95" stroke="#111" stroke-width="0.18">2020</text>
<path d="M143.05,637.20V641.40" stroke="#222" stroke-width="1.15"/>
<text x="144.95" y="650.00" transform="rotate(-45 144.95 650.00)" text-anchor="end" font-weight="bold" font-size="6.95" stroke="#111" stroke-width="0.18">2021</text>
<path d="M160.60,637.20V641.40" stroke="#222" stroke-width="1.15"/>
<text x="162.50" y="650.00" transform="rotate(-45 162.50 650.00)" text-anchor="end" font-weight="bold" font-size="6.95" stroke="#111" stroke-width="0.18">2022</text>
<path d="M178.15,637.20V641.40" stroke="#222" stroke-width="1.15"/>
<text x="180.05" y="650.00" transform="rotate(-45 180.05 650.00)" text-anchor="end" font-weight="bold" font-size="6.95" stroke="#111" stroke-width="0.18">2023</text>
<path d="M117.00,541.00V637.20" stroke="#999" stroke-width="1.6" stroke-dasharray="1.25 1.25"/>
<text x="84.1" y="550.2" text-anchor="middle" font-size="6.85" stroke="#222" stroke-width="0.12">Pre-pandemic</text>
<text x="151.5" y="550.2" text-anchor="middle" font-size="6.85" stroke="#222" stroke-width="0.12">Pandemic</text>
<path d="M55.30,581.04L72.85,594.52L90.40,603.13L107.95,612.12L125.50,624.10L143.05,625.59L160.60,624.10L178.15,622.60" fill="none" stroke="#5cb4bc" stroke-width="0.9"/>
<path d="M72.85,594.52V592.27M70.85,592.27H74.85" stroke="#5cb4bc" stroke-width="0.8" fill="none"/>
<rect x="53.30" y="579.04" width="4.00" height="4.00" fill="#2196a8"/>
<rect x="70.85" y="592.52" width="4.00" height="4.00" fill="#2196a8"/>
<rect x="88.40" y="601.13" width="4.00" height="4.00" fill="#2196a8"/>
<rect x="105.95" y="610.12" width="4.00" height="4.00" fill="#2196a8"/>
<rect x="123.50" y="622.10" width="4.00" height="4.00" fill="#2196a8"/>
<rect x="141.05" y="623.59" width="4.00" height="4.00" fill="#2196a8"/>
<rect x="158.60" y="622.10" width="4.00" height="4.00" fill="#2196a8"/>
<rect x="176.15" y="620.60" width="4.00" height="4.00" fill="#2196a8"/>
<path d="M55.30,574.30L72.85,586.28L90.40,597.89L107.95,608.00L125.50,622.60L143.05,622.60L160.60,621.48L178.15,619.79" fill="none" stroke="#8c8cdc" stroke-width="0.9"/>
<path d="M55.30,574.30V571.68M53.30,571.68H57.30" stroke="#8c8cdc" stroke-width="0.8" fill="none"/>
<circle cx="55.30" cy="574.30" r="2.25" fill="#5858ec"/>
<circle cx="72.85" cy="586.28" r="2.25" fill="#5858ec"/>
<circle cx="90.40" cy="597.89" r="2.25" fill="#5858ec"/>
<circle cx="107.95" cy="608.00" r="2.25" fill="#5858ec"/>
<circle cx="125.50" cy="622.60" r="2.25" fill="#5858ec"/>
<circle cx="143.05" cy="622.60" r="2.25" fill="#5858ec"/>
<circle cx="160.60" cy="621.48" r="2.25" fill="#5858ec"/>
<circle cx="178.15" cy="619.79" r="2.25" fill="#5858ec"/>
<path d="M55.30,591.52L72.85,597.89L90.40,607.06L107.95,615.67L125.50,625.03L143.05,624.10L160.60,622.97L178.15,623.72" fill="none" stroke="#eeac6c" stroke-width="0.9"/>
<path d="M52.95,593.37L57.65,593.37L55.30,589.67Z" fill="#f08420"/>
<path d="M70.50,599.74L75.20,599.74L72.85,596.04Z" fill="#f08420"/>
<path d="M88.05,608.91L92.75,608.91L90.40,605.21Z" fill="#f08420"/>
<path d="M105.60,617.52L110.30,617.52L107.95,613.82Z" fill="#f08420"/>
<path d="M123.15,626.88L127.85,626.88L125.50,623.18Z" fill="#f08420"/>
<path d="M140.70,625.95L145.40,625.95L143.05,622.25Z" fill="#f08420"/>
<path d="M158.25,624.82L162.95,624.82L160.60,621.12Z" fill="#f08420"/>
<path d="M175.80,625.57L180.50,625.57L178.15,621.87Z" fill="#f08420"/>
<path d="M55.30,549.59L72.85,567.94L90.40,584.41L107.95,598.64L125.50,615.67L143.05,615.11L160.60,611.18L178.15,610.06" fill="none" stroke="#b83c3c" stroke-width="0.9"/>
<path d="M53.05,547.74L57.55,547.74L55.30,551.44Z" fill="#e80c0c"/>
<path d="M70.60,566.09L75.10,566.09L72.85,569.79Z" fill="#e80c0c"/>
<path d="M88.15,582.56L92.65,582.56L90.40,586.26Z" fill="#e80c0c"/>
<path d="M105.70,596.79L110.20,596.79L107.95,600.49Z" fill="#e80c0c"/>
<path d="M123.25,613.82L127.75,613.82L125.50,617.52Z" fill="#e80c0c"/>
<path d="M140.80,613.26L145.30,613.26L143.05,616.96Z" fill="#e80c0c"/>
<path d="M158.35,609.33L162.85,609.33L160.60,613.03Z" fill="#e80c0c"/>
<path d="M175.90,608.21L180.40,608.21L178.15,611.91Z" fill="#e80c0c"/>
<text x="332.6" y="531.6" text-anchor="middle" font-weight="bold" font-size="8.78" stroke="#000" stroke-width="0.14">Household type</text>
<text x="243.5" y="590.1" transform="rotate(-90 243.5 590.1)" text-anchor="middle" font-weight="bold" font-size="8.25" stroke="#000" stroke-width="0.1">Prevalence, weighted (%)</text>
<path d="M260.00,542.40V637.20H401.00" fill="none" stroke="#000" stroke-width="1.3"/>
<path d="M256.40,637.20H260.00" stroke="#222" stroke-width="1.1"/>
<text x="255.30" y="640.60" text-anchor="end" font-weight="bold" font-size="7.40" stroke="#111" stroke-width="0.15">0</text>
<path d="M256.40,605.80H260.00" stroke="#222" stroke-width="1.1"/>
<text x="255.30" y="609.20" text-anchor="end" font-weight="bold" font-size="7.40" stroke="#111" stroke-width="0.15">10</text>
<path d="M256.40,574.40H260.00" stroke="#222" stroke-width="1.1"/>
<text x="255.30" y="577.80" text-anchor="end" font-weight="bold" font-size="7.40" stroke="#111" stroke-width="0.15">20</text>
<path d="M256.40,543.00H260.00" stroke="#222" stroke-width="1.1"/>
<text x="255.30" y="546.40" text-anchor="end" font-weight="bold" font-size="7.40" stroke="#111" stroke-width="0.15">30</text>
<path d="M270.00,637.20V641.40" stroke="#222" stroke-width="1.15"/>
<text x="271.90" y="650.00" transform="rotate(-45 271.90 650.00)" text-anchor="end" font-weight="bold" font-size="6.95" stroke="#111" stroke-width="0.18">2009–2010</text>
<path d="M287.70,637.20V641.40" stroke="#222" stroke-width="1.15"/>
<text x="289.60" y="650.00" transform="rotate(-45 289.60 650.00)" text-anchor="end" font-weight="bold" font-size="6.95" stroke="#111" stroke-width="0.18">2011–2013</text>
<path d="M305.40,637.20V641.40" stroke="#222" stroke-width="1.15"/>
<text x="307.30" y="650.00" transform="rotate(-45 307.30 650.00)" text-anchor="end" font-weight="bold" font-size="6.95" stroke="#111" stroke-width="0.18">2014–2016</text>
<path d="M323.10,637.20V641.40" stroke="#222" stroke-width="1.15"/>
<text x="325.00" y="650.00" transform="rotate(-45 325.00 650.00)" text-anchor="end" font-weight="bold" font-size="6.95" stroke="#111" stroke-width="0.18">2017–2019</text>
<path d="M340.80,637.20V641.40" stroke="#222" stroke-width="1.15"/>
<text x="342.70" y="650.00" transform="rotate(-45 342.70 650.00)" text-anchor="end" font-weight="bold" font-size="6.95" stroke="#111" stroke-width="0.18">2020</text>
<path d="M358.50,637.20V641.40" stroke="#222" stroke-width="1.15"/>
<text x="360.40" y="650.00" transform="rotate(-45 360.40 650.00)" text-anchor="end" font-weight="bold" font-size="6.95" stroke="#111" stroke-width="0.18">2021</text>
<path d="M376.20,637.20V641.40" stroke="#222" stroke-width="1.15"/>
<text x="378.10" y="650.00" transform="rotate(-45 378.10 650.00)" text-anchor="end" font-weight="bold" font-size="6.95" stroke="#111" stroke-width="0.18">2022</text>
<path d="M393.90,637.20V641.40" stroke="#222" stroke-width="1.15"/>
<text x="395.80" y="650.00" transform="rotate(-45 395.80 650.00)" text-anchor="end" font-weight="bold" font-size="6.95" stroke="#111" stroke-width="0.18">2023</text>
<path d="M332.30,541.00V637.20" stroke="#666" stroke-width="1.4" stroke-dasharray="1.25 1.25"/>
<text x="299.2" y="550.2" text-anchor="middle" font-size="6.85" stroke="#222" stroke-width="0.12">Pre-pandemic</text>
<text x="367.3" y="550.2" text-anchor="middle" font-size="6.85" stroke="#222" stroke-width="0.12">Pandemic</text>
<path d="M270.00,593.55L287.70,600.15L305.40,608.31L323.10,617.42L340.80,626.52L358.50,625.90L376.20,624.64L393.90,626.84" fill="none" stroke="#5cb4bc" stroke-width="0.9"/>
<path d="M287.70,600.15V597.01M285.70,597.01H289.70" stroke="#5cb4bc" stroke-width="0.8" fill="none"/>
<path d="M376.20,624.64V623.07M374.20,623.07H378.20" stroke="#5cb4bc" stroke-width="0.8" fill="none"/>
<rect x="268.00" y="591.55" width="4.00" height="4.00" fill="#2196a8"/>
<rect x="285.70" y="598.15" width="4.00" height="4.00" fill="#2196a8"/>
<rect x="303.40" y="606.31" width="4.00" height="4.00" fill="#2196a8"/>
<rect x="321.10" y="615.42" width="4.00" height="4.00" fill="#2196a8"/>
<rect x="338.80" y="624.52" width="4.00" height="4.00" fill="#2196a8"/>
<rect x="356.50" y="623.90" width="4.00" height="4.00" fill="#2196a8"/>
<rect x="374.20" y="622.64" width="4.00" height="4.00" fill="#2196a8"/>
<rect x="391.90" y="624.84" width="4.00" height="4.00" fill="#2196a8"/>
<path d="M270.00,585.86L287.70,591.36L305.40,604.23L323.10,612.08L340.80,624.64L358.50,624.95L376.20,624.64L393.90,622.44" fill="none" stroke="#8c8cdc" stroke-width="0.9"/>
<path d="M270.00,585.86V582.41M268.00,582.41H272.00" stroke="#8c8cdc" stroke-width="0.8" fill="none"/>
<circle cx="270.00" cy="585.86" r="2.25" fill="#5858ec"/>
<circle cx="287.70" cy="591.36" r="2.25" fill="#5858ec"/>
<circle cx="305.40" cy="604.23" r="2.25" fill="#5858ec"/>
<circle cx="323.10" cy="612.08" r="2.25" fill="#5858ec"/>
<circle cx="340.80" cy="624.64" r="2.25" fill="#5858ec"/>
<circle cx="358.50" cy="624.95" r="2.25" fill="#5858ec"/>
<circle cx="376.20" cy="624.64" r="2.25" fill="#5858ec"/>
<circle cx="393.90" cy="622.44" r="2.25" fill="#5858ec"/>
<path d="M270.00,597.95L287.70,603.60L305.40,611.45L323.10,620.24L340.80,626.84L358.50,628.41L376.20,626.84L393.90,625.90" fill="none" stroke="#eeac6c" stroke-width="0.9"/>
<path d="M267.65,599.80L272.35,599.80L270.00,596.10Z" fill="#f08420"/>
<path d="M285.35,605.45L290.05,605.45L287.70,601.75Z" fill="#f08420"/>
<path d="M303.05,613.30L307.75,613.30L305.40,609.60Z" fill="#f08420"/>
<path d="M320.75,622.09L325.45,622.09L323.10,618.39Z" fill="#f08420"/>
<path d="M338.45,628.69L343.15,628.69L340.80,624.99Z" fill="#f08420"/>
<path d="M356.15,630.26L360.85,630.26L358.50,626.56Z" fill="#f08420"/>
<path d="M373.85,628.69L378.55,628.69L376.20,624.99Z" fill="#f08420"/>
<path d="M391.55,627.75L396.25,627.75L393.90,624.05Z" fill="#f08420"/>
<path d="M270.00,559.96L287.70,572.20L305.40,593.24L323.10,603.60L340.80,620.24L358.50,616.48L376.20,615.85L393.90,616.48" fill="none" stroke="#b83c3c" stroke-width="0.9"/>
<path d="M267.75,558.11L272.25,558.11L270.00,561.81Z" fill="#e80c0c"/>
<path d="M285.45,570.35L289.95,570.35L287.70,574.05Z" fill="#e80c0c"/>
<path d="M303.15,591.39L307.65,591.39L305.40,595.09Z" fill="#e80c0c"/>
<path d="M320.85,601.75L325.35,601.75L323.10,605.45Z" fill="#e80c0c"/>
<path d="M338.55,618.39L343.05,618.39L340.80,622.09Z" fill="#e80c0c"/>
<path d="M356.25,614.63L360.75,614.63L358.50,618.33Z" fill="#e80c0c"/>
<path d="M373.95,614.00L378.45,614.00L376.20,617.70Z" fill="#e80c0c"/>
<path d="M391.65,614.63L396.15,614.63L393.90,618.33Z" fill="#e80c0c"/>
<path d="M419.00,200.40H429.60" stroke="#3535b0" stroke-width="0.9"/>
<circle cx="424.30" cy="200.40" r="2.14" fill="#0a0ae8"/>
<text x="435.60" y="202.60" font-size="6.6" stroke="#222" stroke-width="0.08">Males</text>
<path d="M419.00,212.00H429.60" stroke="#ec9898" stroke-width="0.9"/>
<rect x="422.40" y="210.10" width="3.80" height="3.80" fill="#f27c7c"/>
<text x="435.60" y="214.20" font-size="6.6" stroke="#222" stroke-width="0.08">Females</text>
<path d="M417.00,371.40H426.40" stroke="#8c8cdc" stroke-width="0.9"/>
<circle cx="421.70" cy="371.40" r="2.14" fill="#5858ec"/>
<text x="432.60" y="373.60" font-size="6.6" stroke="#222" stroke-width="0.08">30–44</text>
<path d="M417.00,384.60H426.40" stroke="#b83c3c" stroke-width="0.9"/>
<path d="M419.56,382.84L423.84,382.84L421.70,386.36Z" fill="#e80c0c"/>
<text x="432.60" y="386.80" font-size="6.6" stroke="#222" stroke-width="0.08">≥75</text>
<path d="M417.00,396.40H426.40" stroke="#5cb4bc" stroke-width="0.9"/>
<rect x="419.80" y="394.50" width="3.80" height="3.80" fill="#2196a8"/>
<text x="432.60" y="398.60" font-size="6.6" stroke="#222" stroke-width="0.08">45–64</text>
<path d="M417.00,408.00H426.40" stroke="#eeac6c" stroke-width="0.9"/>
<path d="M419.47,409.76L423.93,409.76L421.70,406.24Z" fill="#f08420"/>
<text x="432.60" y="410.20" font-size="6.6" stroke="#222" stroke-width="0.08">65–74</text>
<path d="M417.00,548.00H426.60" stroke="#b83c3c" stroke-width="0.9"/>
<path d="M419.66,546.24L423.94,546.24L421.80,549.76Z" fill="#e80c0c"/>
<text x="432.60" y="550.20" font-size="6.6" stroke="#222" stroke-width="0.08">Single-person household</text>
<path d="M417.00,560.00H426.60" stroke="#eeac6c" stroke-width="0.9"/>
<path d="M419.57,561.76L424.03,561.76L421.80,558.24Z" fill="#f08420"/>
<text x="432.60" y="562.20" font-size="6.6" stroke="#222" stroke-width="0.08">One-generation</text>
<path d="M417.00,571.00H426.60" stroke="#8c8cdc" stroke-width="0.9"/>
<circle cx="421.80" cy="571.00" r="2.14" fill="#5858ec"/>
<text x="432.60" y="573.20" font-size="6.6" stroke="#222" stroke-width="0.08">Two-generation</text>
<path d="M417.00,582.40H426.60" stroke="#5cb4bc" stroke-width="0.9"/>
<rect x="419.90" y="580.50" width="3.80" height="3.80" fill="#2196a8"/>
<text x="432.60" y="584.60" font-size="6.6" stroke="#222" stroke-width="0.08">Over three-generation</text>
<text x="1.8" y="11.8" font-weight="bold" font-size="13.6">A</text>
<text x="214.7" y="11.8" font-weight="bold" font-size="13.6">B</text>
<text x="117.3" y="680.8" text-anchor="middle" font-weight="bold" font-size="8.4" stroke="#000" stroke-width="0.12">Year</text>
<text x="333.0" y="681.5" text-anchor="middle" font-weight="bold" font-size="8.4" stroke="#000" stroke-width="0.12">Year</text>
</g>
</svg></div>
</body></html>
